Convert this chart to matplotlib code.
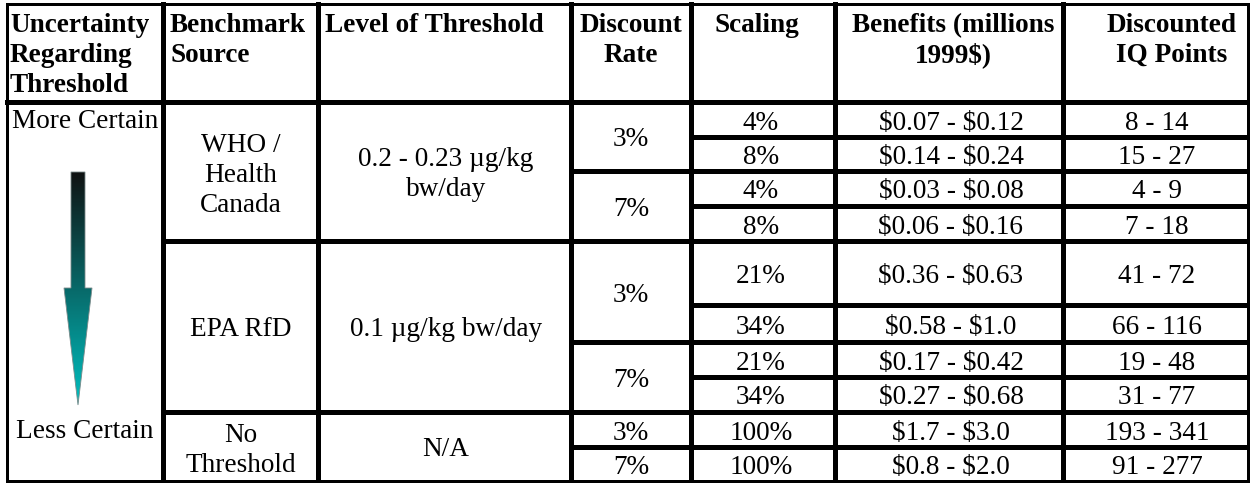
import numpy as np
import matplotlib.pyplot as plt
from matplotlib.patches import Polygon

plt.rcParams['font.family'] = ['Liberation Serif', 'DejaVu Serif']
plt.rcParams['text.parse_math'] = False

# table content
headers = [
    ["Uncertainty", "Regarding", "Threshold"],
    ["Benchmark", "Source"],
    ["Level of Threshold"],
    ["Discount", "Rate"],
    ["Scaling"],
    ["Benefits (millions", "1999$)"],
    ["Discounted", "IQ Points"],
]
certainty_labels = ["More Certain", "Less Certain"]
sources = [["WHO /", "Health", "Canada"], ["EPA RfD"], ["No", "Threshold"]]
levels = [["0.2 - 0.23 \u00b5g/kg", "bw/day"], ["0.1 \u00b5g/kg bw/day"], ["N/A"]]
discount_rates = ["3%", "7%", "3%", "7%", "3%", "7%"]
scaling = ["4%", "8%", "4%", "8%", "21%", "34%", "21%", "34%", "100%", "100%"]
benefits = ["$0.07 - $0.12", "$0.14 - $0.24", "$0.03 - $0.08", "$0.06 - $0.16",
            "$0.36 - $0.63", "$0.58 - $1.0", "$0.17 - $0.42", "$0.27 - $0.68",
            "$1.7 - $3.0", "$0.8 - $2.0"]
iq_points = ["8 - 14", "15 - 27", "4 - 9", "7 - 18", "41 - 72", "66 - 116",
             "19 - 48", "31 - 77", "193 - 341", "91 - 277"]

# layout (pixels)
col_x = [7, 163, 318, 571, 691, 835, 1063, 1248]
row_y = [102, 137, 171, 206, 241, 305, 342, 377, 412, 447, 481]
top_y = 4
source_rows = [(0, 4), (4, 8), (8, 10)]      # row index ranges for each source
rate_rows = [(0, 2), (2, 4), (4, 6), (6, 8), (8, 9), (9, 10)]

FS = 19.6
THICK = 5 * 0.72
THIN = 3 * 0.72

fig = plt.figure(figsize=(12.5, 4.83), dpi=100)
ax = fig.add_axes([0, 0, 1, 1])
ax.set_xlim(0, 1250)
ax.set_ylim(483, 0)
ax.axis('off')


def hline(y, x0, x1, lw=THICK):
    ax.plot([x0, x1], [y, y], color='black', lw=lw, solid_capstyle='projecting')


def vline(x, y0, y1, lw=THICK):
    ax.plot([x, x], [y0, y1], color='black', lw=lw, solid_capstyle='projecting')


def cell_text(lines, xc, y0, y1, pitch=30, bold=False):
    yc = (y0 + y1) / 2
    n = len(lines)
    for i, line in enumerate(lines):
        yb = yc + 10 + (i - (n - 1) / 2) * pitch
        ax.text(xc, yb, line, ha='center', va='baseline', fontsize=FS,
                fontweight='bold' if bold else 'normal')


# grid: outer border
hline(top_y, col_x[0], col_x[-1], THIN)
hline(row_y[-1], col_x[0], col_x[-1], THIN)
vline(col_x[0], top_y, row_y[-1], THIN)
vline(col_x[-1], top_y, row_y[-1], THIN)
# inner verticals
for x in col_x[1:-1]:
    vline(x, top_y, row_y[-1])
# header line
hline(row_y[0], col_x[0], col_x[-1])
# row lines
source_edges = [row_y[s] for s, e in source_rows[1:]]
rate_edges = [row_y[s] for s, e in rate_rows[1:]]
for y in row_y[1:-1]:
    if y in source_edges:
        hline(y, col_x[1], col_x[-1])
    elif y in rate_edges:
        hline(y, col_x[3], col_x[-1])
    else:
        hline(y, col_x[4], col_x[-1])

# headers
left_x = [10, 170, 325]
centers_h = [631, 757, 953, 1172]
for i, lines in enumerate(headers):
    for j, line in enumerate(lines):
        yb = 32 + 30 * j
        if i < 3:
            ax.text(left_x[i], yb, line, ha='left', va='baseline', fontsize=FS,
                    fontweight='bold')
        else:
            ax.text(centers_h[i - 3], yb, line, ha='center', va='baseline',
                    fontsize=FS, fontweight='bold')

# uncertainty column
ax.text(85, 128, certainty_labels[0], ha='center', va='baseline', fontsize=FS)
ax.text(85, 438, certainty_labels[1], ha='center', va='baseline', fontsize=FS)

# gradient arrow
arrow_pts = [(71, 172), (85, 172), (85, 288), (92, 288), (78, 405), (64, 288), (71, 288)]
arrow = Polygon(arrow_pts, closed=True, facecolor='none', edgecolor='#7a8a8a', lw=0.6, zorder=3)
ax.add_patch(arrow)
t = np.linspace(0, 1, 256)[:, None, None]
c_top = np.array([16, 18, 18]) / 255
c_bot = np.array([0, 192, 192]) / 255
grad = np.tile(c_top * (1 - t) + c_bot * t, (1, 2, 1))
img = ax.imshow(grad, extent=(64, 92, 405, 172), origin='upper', aspect='auto', zorder=2)
img.set_clip_path(arrow)
ax.set_xlim(0, 1250)
ax.set_ylim(483, 0)

# body rows: top/bottom edge of each row
body_top = row_y[:-1]
body_bot = row_y[1:]

# source and level columns
for (s, e), src, lvl in zip(source_rows, sources, levels):
    cell_text(src, 241, body_top[s], body_bot[e - 1])
    cell_text(lvl, 446, body_top[s], body_bot[e - 1])

# discount rate column
for (s, e), rate in zip(rate_rows, discount_rates):
    cell_text([rate], 631, body_top[s], body_bot[e - 1])

# scaling, benefits, IQ points
for k in range(len(scaling)):
    cell_text([scaling[k]], 761, body_top[k], body_bot[k])
    cell_text([benefits[k]], 951, body_top[k], body_bot[k])
    cell_text([iq_points[k]], 1157, body_top[k], body_bot[k])

fig.savefig('out.png', dpi=100)
